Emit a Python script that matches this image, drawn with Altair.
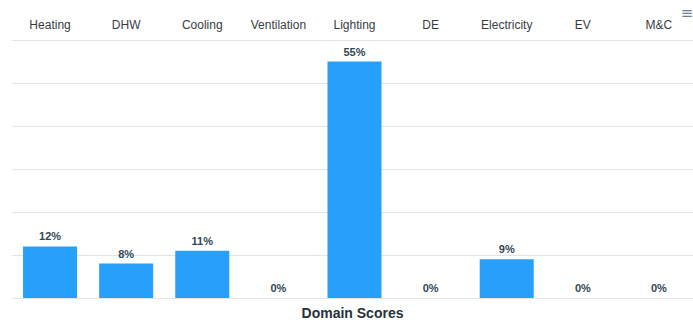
import altair as alt
import pandas as pd

domains = ["Heating", "DHW", "Cooling", "Ventilation", "Lighting", "DE", "Electricity", "EV", "M&C"]
scores = [12, 8, 11, 0, 55, 0, 9, 0, 0]

df = pd.DataFrame({"domain": domains, "score": scores})
df["label"] = df["score"].astype(str) + "%"

x_enc = alt.X(
    "domain:N",
    sort=domains,
    scale=alt.Scale(range=[0, 685], paddingInner=0.29, paddingOuter=0.145),
    axis=alt.Axis(
        orient="top", title=None, ticks=False, domain=False, grid=False,
        labelAngle=0, labelFontSize=12, labelColor="#373d3f",
        labelFont="Liberation Sans", labelPadding=9,
    ),
)
y_enc = alt.Y(
    "score:Q",
    scale=alt.Scale(domain=[0, 60], nice=False),
    axis=alt.Axis(
        values=[0, 10, 20, 30, 40, 50, 60], labels=False, ticks=False,
        domain=False, title=None, grid=True, gridColor="#e3e3e3", gridWidth=1,
    ),
)

base = alt.Chart(df)

bars = base.mark_bar(color="#26A0FB").encode(x=x_enc, y=y_enc)

labels = base.mark_text(
    baseline="bottom", dy=-4, fontSize=11, fontWeight="bold",
    color="#304758", font="Liberation Sans",
).encode(x=alt.X("domain:N", sort=domains), y="score:Q", text="label:N")

# toolbar menu glyph in the top-right corner
menu = alt.Chart(pd.DataFrame({"icon": ["≡"]})).mark_text(
    fontSize=15, color="#6e8192", align="center", baseline="middle",
    font="DejaVu Sans",
).encode(x=alt.value(675), y=alt.value(-27.5), text="icon:N")

chart = (
    alt.layer(bars, labels, menu)
    .properties(
        width=681,
        height=258,
        title=alt.TitleParams(
            "Domain Scores", orient="bottom", anchor="middle", fontSize=14,
            fontWeight="bold", color="#263238", font="Liberation Sans", offset=9,
        ),
        autosize=alt.AutoSizeParams(type="none"),
        padding={"left": 12, "top": 40, "right": 0, "bottom": 25},
    )
    .configure_view(stroke=None)
)

chart.save("out.html", embed_options={"renderer": "svg", "actions": False})
